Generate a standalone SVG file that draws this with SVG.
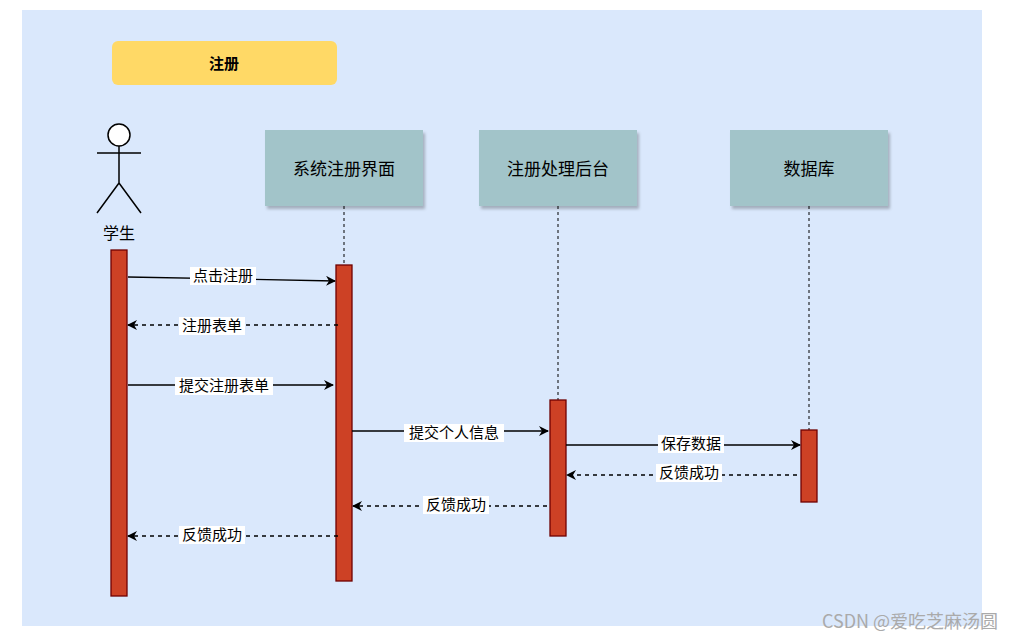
<svg xmlns="http://www.w3.org/2000/svg" width="1009" height="640" viewBox="0 0 1009 640">
<style>
text{font-family:"Noto Sans CJK SC","Liberation Sans",sans-serif;font-size:15px;text-anchor:middle;fill:#000}
.h{font-size:17px}
.hd{fill:#a2c4c9}
.act{fill:#cd4125;stroke:#6f0000;stroke-width:1.3}
.life{stroke:#000;stroke-dasharray:3 3;fill:none}
.m{stroke:#000;stroke-width:1.3;fill:none;marker-end:url(#a)}
.d{stroke-dasharray:4 4}
.lb{fill:#fff}
</style>
<defs>
<marker id="a" viewBox="0 0 10 10" refX="9" refY="5" markerWidth="10" markerHeight="10" markerUnits="userSpaceOnUse" orient="auto"><path d="M0,0 L10,5 L0,10 L3,5 Z" fill="#000"/></marker>
<filter id="sh"><feDropShadow dx="2" dy="3" stdDeviation="1.5" flood-opacity="0.25"/></filter>
</defs>
<rect width="1009" height="640" fill="#fff"/>
<rect x="22" y="10" width="960" height="616" fill="#dae8fc"/>
<g id="title"><rect x="112" y="41" width="225" height="44" rx="6" fill="#ffd966"/><text x="224" y="69" font-weight="bold" font-size="16">注册</text></g>
<g id="student" stroke="#000" stroke-width="1.5" fill="none">
<circle cx="119" cy="135" r="11" fill="#fff"/><path d="M119,146V183M97,153H141M119,183L97,213M119,183L141,213"/>
</g>
<text x="119" y="239" class="h" style="font-size:16px">学生</text>
<g id="ui"><rect class="hd" x="265" y="130" width="158" height="76" filter="url(#sh)"/><text class="h" x="344" y="175">系统注册界面</text></g>
<g id="backend"><rect class="hd" x="479" y="130" width="158" height="76" filter="url(#sh)"/><text class="h" x="558" y="175">注册处理后台</text></g>
<g id="db"><rect class="hd" x="730" y="130" width="158" height="76" filter="url(#sh)"/><text class="h" x="809" y="175">数据库</text></g>
<g id="lifelines">
<path class="life" d="M344,206V265M558,206V400M809,206V430"/>
</g>
<g id="activations">
<rect class="act" x="111" y="250" width="16" height="346"/>
<rect class="act" x="336" y="265" width="16" height="316"/>
<rect class="act" x="550" y="400" width="16" height="136"/>
<rect class="act" x="801" y="430" width="16" height="72"/>
</g>
<g id="connectors">
<path class="m" d="M128,277L335,281"/>
<path class="m d" d="M338,325H128"/>
<path class="m" d="M128,385H333"/>
<path class="m" d="M352,431H548"/>
<path class="m" d="M566,445H800"/>
<path class="m d" d="M797,475H567"/>
<path class="m d" d="M547,506H353"/>
<path class="m d" d="M338,536H128"/>
<rect class="lb" x="190" y="267" width="66" height="18"/><text x="223" y="281">点击注册</text>
<rect class="lb" x="179" y="317" width="66" height="18"/><text x="212" y="331">注册表单</text>
<rect class="lb" x="175" y="377" width="98" height="18"/><text x="224" y="391">提交注册表单</text>
<rect class="lb" x="404" y="424" width="100" height="18"/><text x="454" y="438">提交个人信息</text>
<rect class="lb" x="658" y="435" width="66" height="18"/><text x="691" y="449">保存数据</text>
<rect class="lb" x="656" y="464" width="66" height="18"/><text x="689" y="478">反馈成功</text>
<rect class="lb" x="423" y="496" width="66" height="18"/><text x="456" y="510">反馈成功</text>
<rect class="lb" x="179" y="526" width="66" height="18"/><text x="212" y="540">反馈成功</text>
</g>
<text x="910" y="628" style="fill:#aaa;font-size:18px">CSDN @爱吃芝麻汤圆</text>
</svg>
